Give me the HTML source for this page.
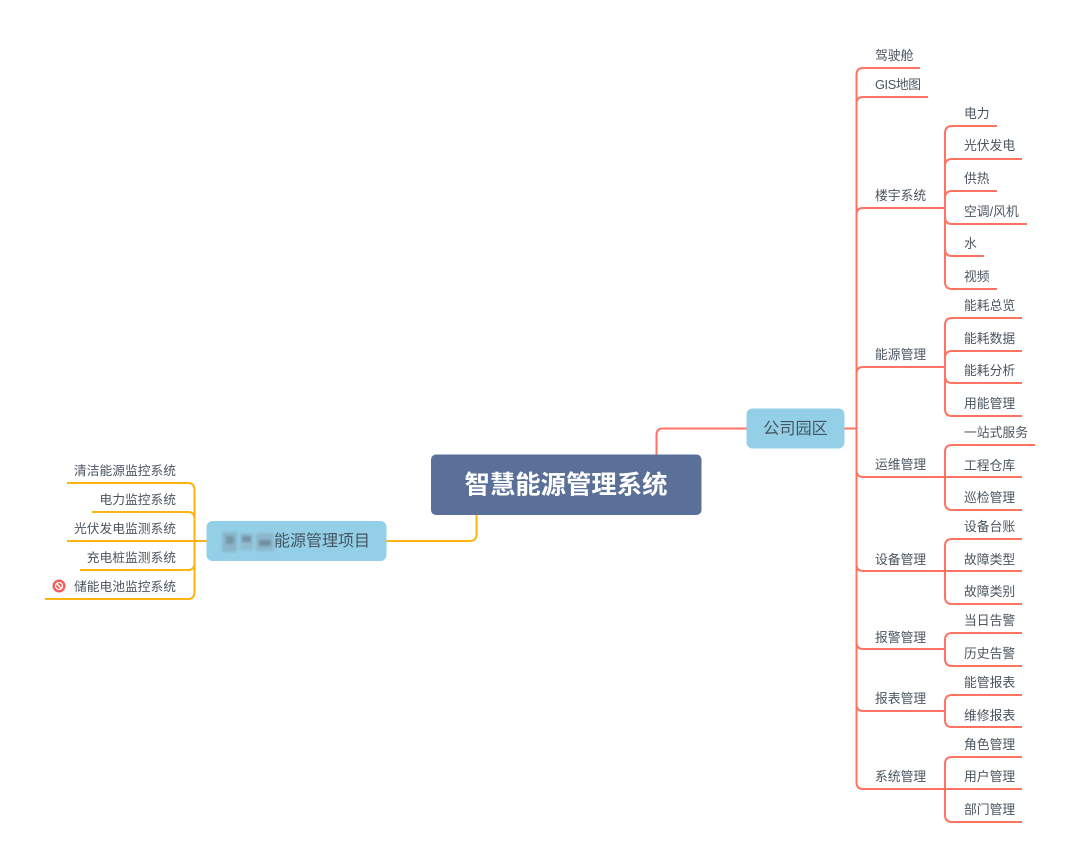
<!DOCTYPE html>
<html><head><meta charset="utf-8">
<style>
html,body{margin:0;padding:0;background:#fff}
svg{display:block;filter:blur(.3px)}
text{font-family:"Liberation Sans","Noto Sans CJK SC",sans-serif;fill:#4a5560}
.r{fill:none;stroke:#ff7363;stroke-width:2}
.y{fill:none;stroke:#ffb311;stroke-width:2}
.t{font-size:12.8px;dominant-baseline:central}
.l{font-size:12.75px;dominant-baseline:central;text-anchor:end}
</style></head>
<body>
<svg width="1080" height="868" viewBox="0 0 1080 868" xmlns="http://www.w3.org/2000/svg">
<defs><filter id="b" x="-20%" y="-20%" width="140%" height="140%"><feGaussianBlur stdDeviation="1.2"/></filter></defs>
<rect width="1080" height="868" fill="#fff"/>
<!-- root connectors -->
<path class="r" d="M656.5 455V435Q656.5 428.5 663 428.5H747"/>
<path class="y" d="M476.5 515V534Q476.5 541 469.5 541H386"/>
<path class="r" d="M844 428.500H856.500"/>
<!-- level 1 right -->
<path class="r" d="M920 68H863Q856.500 68 856.500 75V782Q856.500 789 863 789H945"/>
<path class="r" d="M928 97H863Q856.500 97 856.500 104"/>
<path class="r" d="M945 208H863Q856.500 208 856.500 215"/>
<path class="r" d="M945 367H863Q856.500 367 856.500 374"/>
<path class="r" d="M856.500 470Q856.500 477 863 477H945"/>
<path class="r" d="M856.500 564Q856.500 571 863 571H945"/>
<path class="r" d="M856.500 642Q856.500 649 863 649H945"/>
<path class="r" d="M856.500 704Q856.500 711 863 711H945"/>
<!-- 楼宇 -->
<path class="r" d="M997 126H952Q945 126 945 133V282Q945 289 952 289H997"/>
<path class="r" d="M1022 159H952Q945 159 945 166"/>
<path class="r" d="M997 191H952Q945 191 945 198"/>
<path class="r" d="M945 217Q945 224 952 224H1027"/>
<path class="r" d="M945 249Q945 256 952 256H984"/>
<!-- 能源 -->
<path class="r" d="M1022 318H952Q945 318 945 325V409Q945 416 952 416H1022"/>
<path class="r" d="M1022 351H952Q945 351 945 358"/>
<path class="r" d="M945 376Q945 383 952 383H1022"/>
<!-- 运维 -->
<path class="r" d="M1035 445H952Q945 445 945 452V503Q945 510 952 510H1022"/>
<path class="r" d="M945 477H1022"/>
<!-- 设备 -->
<path class="r" d="M1022 539H952Q945 539 945 546V597Q945 604 952 604H1022"/>
<path class="r" d="M945 571H1022"/>
<!-- 报警 -->
<path class="r" d="M1022 633H952Q945 633 945 640V659Q945 666 952 666H1022"/>
<!-- 报表 -->
<path class="r" d="M1022 695H952Q945 695 945 702V720Q945 727 952 727H1022"/>
<!-- 系统 -->
<path class="r" d="M1022 757H952Q945 757 945 764V815Q945 822 952 822H1022"/>
<path class="r" d="M945 789H1022"/>
<!-- left -->
<path class="y" d="M67 483H188Q194.500 483 194.500 490V592Q194.500 599 188 599H45"/>
<path class="y" d="M92 512H188Q194.500 512 194.500 519"/>
<path class="y" d="M67 541H207"/>
<path class="y" d="M194.500 563Q194.500 570 188 570H80"/>
<!-- nodes -->
<rect x="431" y="454.500" width="270.500" height="60.500" rx="5" fill="#5a7099"/>
<text x="566" y="485.500" text-anchor="middle" dominant-baseline="central" font-size="25.400" font-weight="700" style="fill:#fff">智慧能源管理系统</text>
<rect x="746.500" y="408.500" width="98" height="40" rx="6" fill="#93d0e7"/>
<text x="795.500" y="429" text-anchor="middle" dominant-baseline="central" font-size="16.200" style="fill:#46545f">公司园区</text>
<rect x="206.500" y="521" width="180" height="40" rx="6" fill="#93d0e7"/>
<text x="274" y="541.500" dominant-baseline="central" font-size="16" style="fill:#46545f">能源管理项目</text>
<!-- mosaic -->
<g filter="url(#b)">
<rect x="222" y="532" width="15" height="20" fill="#8cb4c9"/>
<rect x="226" y="536" width="8" height="8" fill="#7598ab"/>
<rect x="240" y="533" width="13" height="17" fill="#8fbbd0"/>
<rect x="242" y="536" width="9" height="6" fill="#6f8fa2"/>
<rect x="256" y="533" width="18" height="18" fill="#8db7cc"/>
<rect x="259" y="540" width="12" height="6" fill="#6f8fa2"/>
</g>
<g transform="translate(0,0.7)">
<!-- level 1 labels -->
<text class="t" x="875" y="55">驾驶舱</text>
<text class="t" x="875" y="84" textLength="46">GIS地图</text>
<text class="t" x="875" y="195">楼宇系统</text>
<text class="t" x="875" y="354">能源管理</text>
<text class="t" x="875" y="464">运维管理</text>
<text class="t" x="875" y="559">设备管理</text>
<text class="t" x="875" y="637">报警管理</text>
<text class="t" x="875" y="698">报表管理</text>
<text class="t" x="875" y="776">系统管理</text>
<!-- level 2 labels -->
<text class="t" x="964" y="113">电力</text>
<text class="t" x="964" y="145">光伏发电</text>
<text class="t" x="964" y="178">供热</text>
<text class="t" x="964" y="211">空调/风机</text>
<text class="t" x="964" y="243">水</text>
<text class="t" x="964" y="276">视频</text>
<text class="t" x="964" y="305">能耗总览</text>
<text class="t" x="964" y="338">能耗数据</text>
<text class="t" x="964" y="370">能耗分析</text>
<text class="t" x="964" y="403">用能管理</text>
<text class="t" x="964" y="432">一站式服务</text>
<text class="t" x="964" y="465">工程仓库</text>
<text class="t" x="964" y="497">巡检管理</text>
<text class="t" x="964" y="526">设备台账</text>
<text class="t" x="964" y="559">故障类型</text>
<text class="t" x="964" y="591">故障类别</text>
<text class="t" x="964" y="620">当日告警</text>
<text class="t" x="964" y="653">历史告警</text>
<text class="t" x="964" y="682">能管报表</text>
<text class="t" x="964" y="715">维修报表</text>
<text class="t" x="964" y="744">角色管理</text>
<text class="t" x="964" y="776">用户管理</text>
<text class="t" x="964" y="809">部门管理</text>
<!-- left labels -->
<text class="l" x="176" y="470">清洁能源监控系统</text>
<text class="l" x="176" y="499">电力监控系统</text>
<text class="l" x="176" y="528">光伏发电监测系统</text>
<text class="l" x="176" y="557">充电桩监测系统</text>
<text class="l" x="176" y="586">储能电池监控系统</text>
</g>
<!-- forbidden icon -->
<circle cx="59" cy="586" r="6.500" fill="#f85c58"/>
<circle cx="59" cy="586" r="3.500" fill="none" stroke="#fff" stroke-width="1.300"/>
<path d="M56.500 583.500L61.500 588.500" stroke="#fff" stroke-width="1.300"/>
</svg>
</body></html>
